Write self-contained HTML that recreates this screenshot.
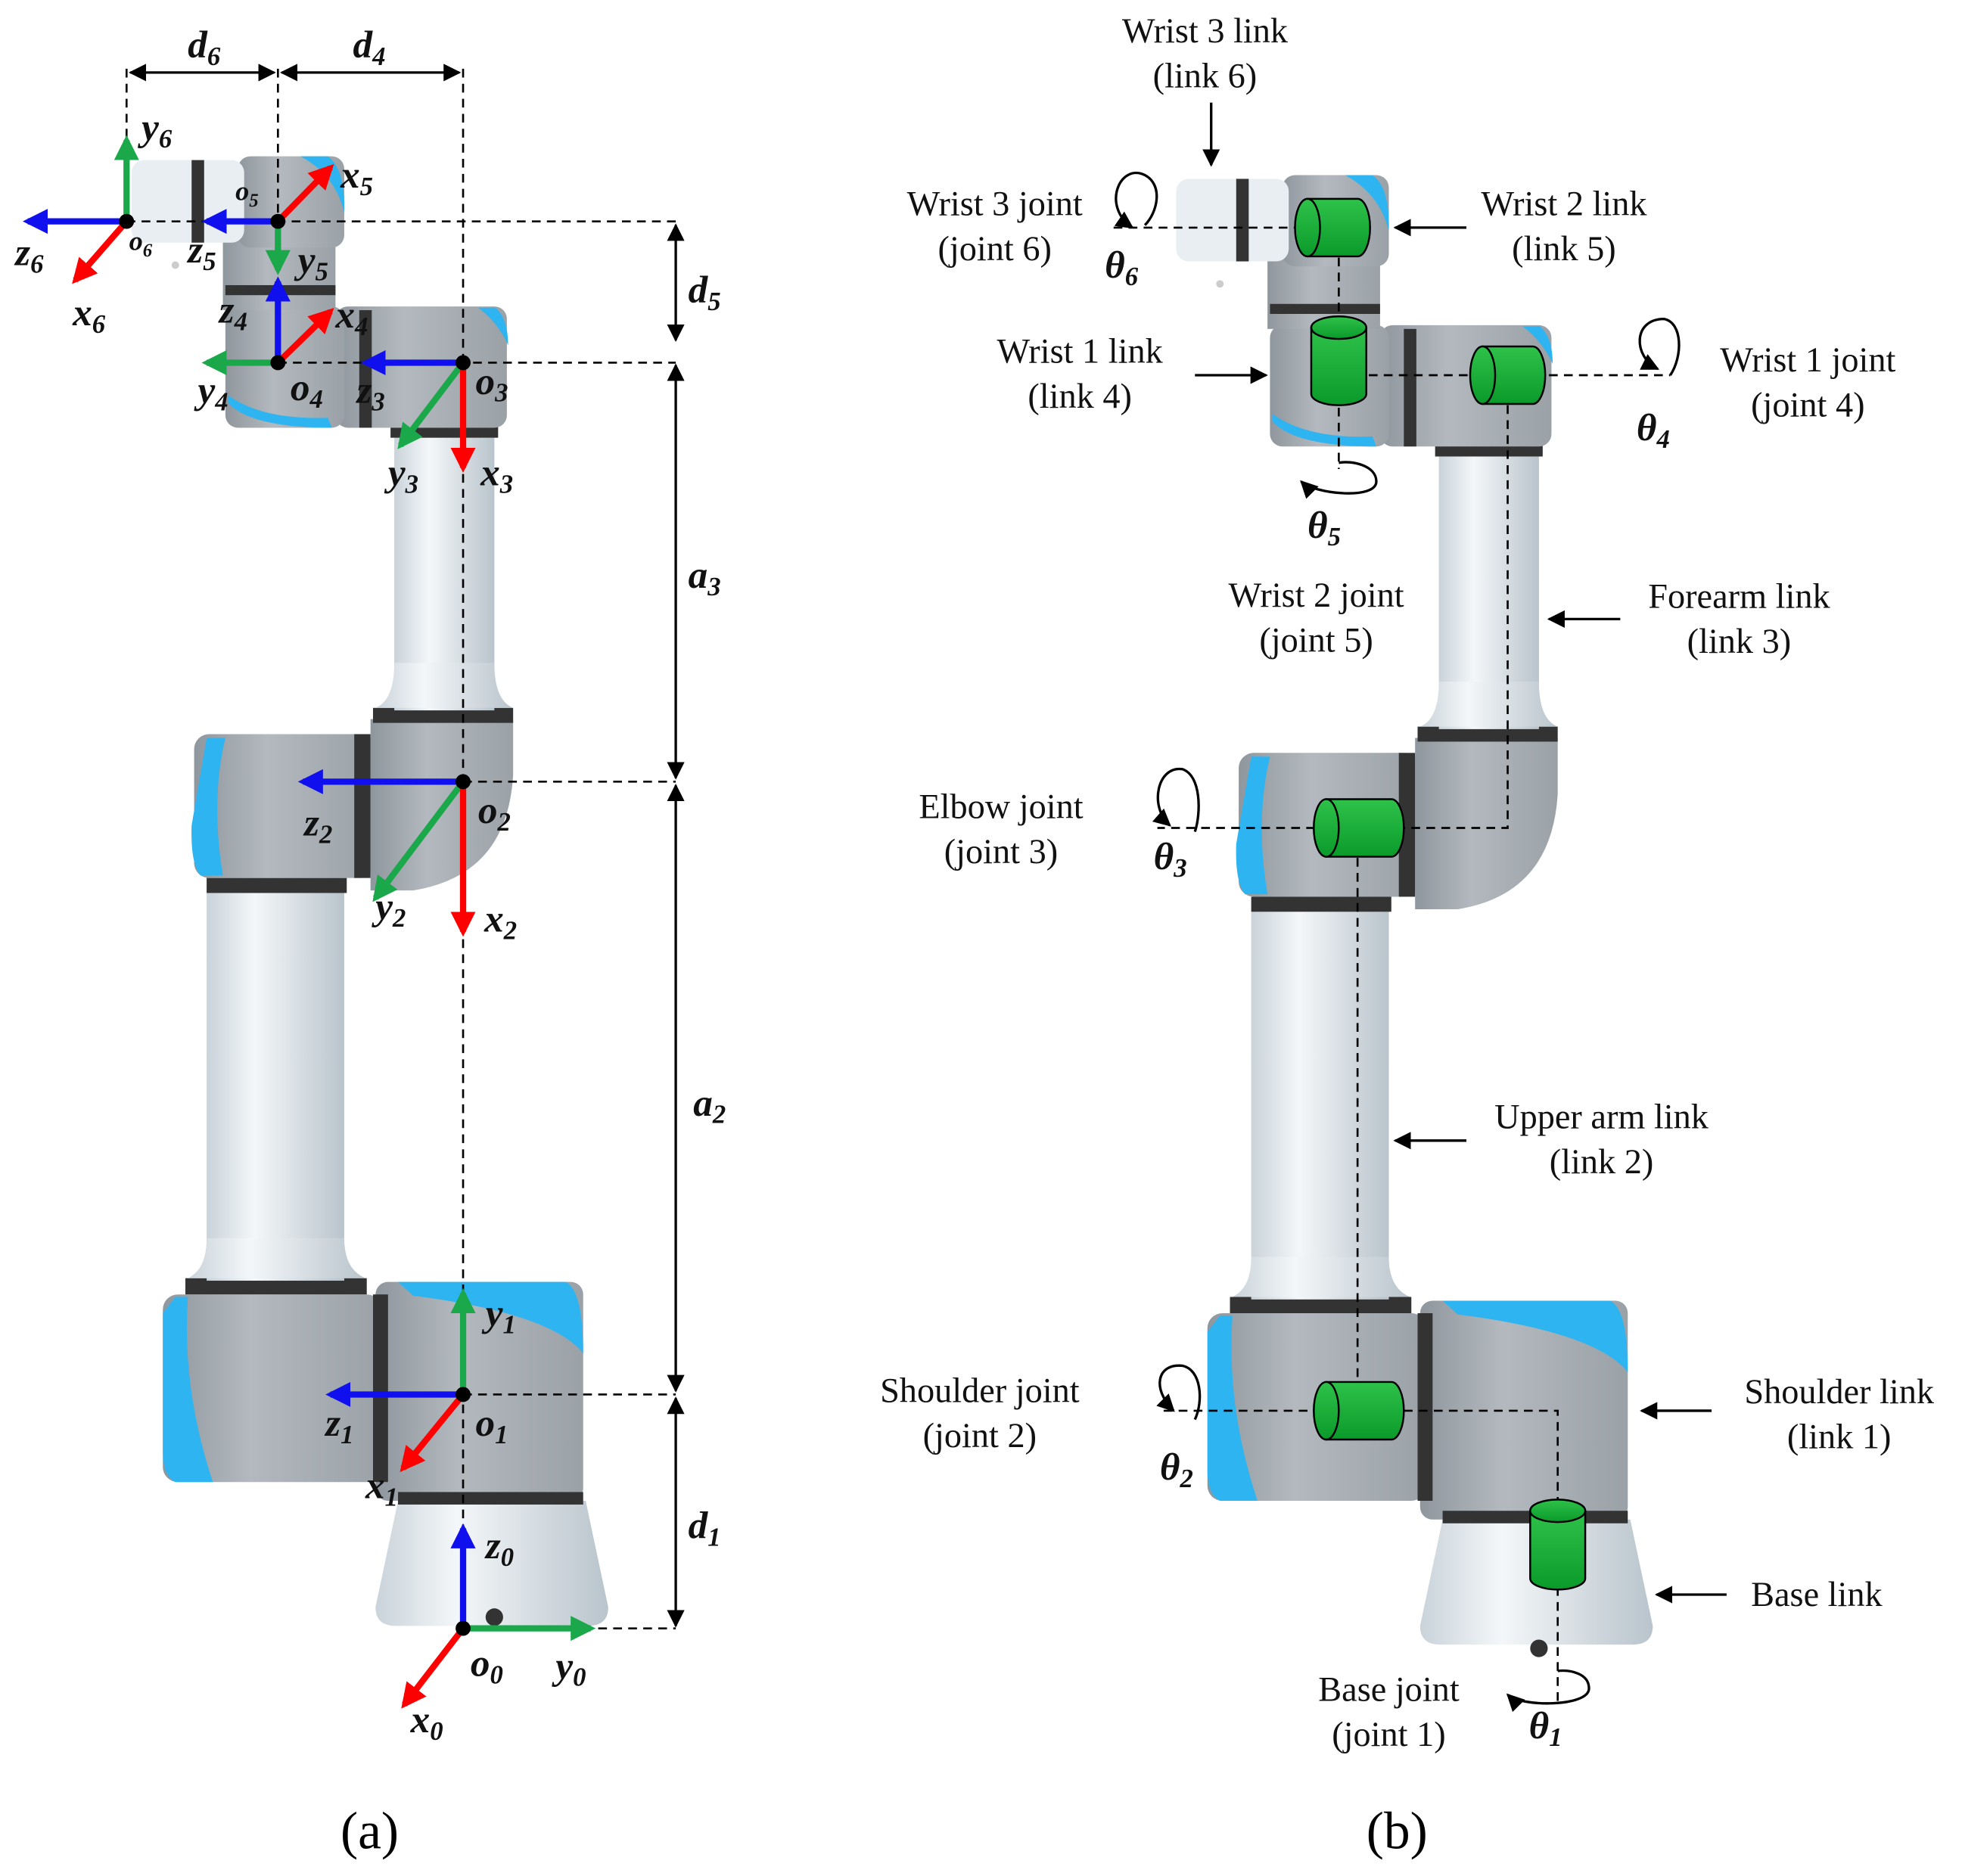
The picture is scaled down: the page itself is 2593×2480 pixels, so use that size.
<!DOCTYPE html>
<html><head><meta charset="utf-8"><style>
html,body{margin:0;padding:0;background:#fff}
svg{display:block}
text{font-family:"Liberation Serif",serif}
.lb{font-size:28px;fill:#111}
.m{font-size:31px;font-weight:bold;font-style:italic;fill:#111}
.s{font-size:21px}
</style></head><body>
<svg width="2593" height="2480" viewBox="0 0 1568 1500" xmlns="http://www.w3.org/2000/svg">
<defs>
<linearGradient id="tube" x1="0" x2="1"><stop offset="0" stop-color="#c9d3da"/><stop offset="0.35" stop-color="#f4f7f9"/><stop offset="1" stop-color="#b9c4cc"/></linearGradient>
<linearGradient id="gray" x1="0" x2="1"><stop offset="0" stop-color="#8f979e"/><stop offset="0.4" stop-color="#b3b9be"/><stop offset="1" stop-color="#9aa1a7"/></linearGradient>
<linearGradient id="gcyl" x1="0" x2="0" y1="0" y2="1"><stop offset="0" stop-color="#2fc24a"/><stop offset="1" stop-color="#0a9a2a"/></linearGradient>
<marker id="ah" viewBox="0 0 10 10" refX="9" refY="5" markerWidth="7" markerHeight="7" orient="auto-start-reverse"><path d="M0,0L10,5L0,10z" fill="#000"/></marker>
<marker id="ar" viewBox="0 0 10 10" refX="8" refY="5" markerWidth="4" markerHeight="4" orient="auto"><path d="M0,0L10,5L0,10z" fill="#f00"/></marker>
<marker id="ag" viewBox="0 0 10 10" refX="8" refY="5" markerWidth="4" markerHeight="4" orient="auto"><path d="M0,0L10,5L0,10z" fill="#1aa84a"/></marker>
<marker id="ab" viewBox="0 0 10 10" refX="8" refY="5" markerWidth="4" markerHeight="4" orient="auto"><path d="M0,0L10,5L0,10z" fill="#1010ee"/></marker>
<g id="robot">
 <path d="M318,1200 L468,1200 L486,1285 Q486,1300 470,1300 L316,1300 Q300,1300 300,1285 Z" fill="url(#tube)"/>
 <rect x="300" y="1025" width="166" height="175" rx="10" fill="url(#gray)"/>
 <path d="M318,1025 L452,1025 Q466,1032 466,1082 Q440,1050 330,1036 Z" fill="#2eb4f0"/>
 <rect x="318" y="1193" width="148" height="10" fill="#333"/>
 <rect x="130" y="1035" width="175" height="150" rx="12" fill="url(#gray)"/>
 <path d="M140,1037 L150,1037 Q145,1110 170,1185 L140,1185 Q130,1180 130,1160 L130,1050 Z" fill="#2eb4f0"/>
 <rect x="298" y="1035" width="12" height="150" fill="#333"/>
 <rect x="148" y="1022" width="145" height="13" fill="#333"/>
 <rect x="165" y="712" width="110" height="312" fill="url(#tube)"/>
 <path d="M165,990 Q165,1015 150,1022 L292,1022 Q275,1015 275,990Z" fill="url(#tube)"/>
 <rect x="165" y="702" width="112" height="12" fill="#333"/>
 <rect x="155" y="587" width="145" height="115" rx="12" fill="url(#gray)"/>
 <path d="M165,590 L180,590 Q168,640 178,700 L160,700 Q152,690 153,660 Z" fill="#2eb4f0"/>
 <rect x="283" y="587" width="13" height="115" fill="#333"/>
 <path d="M296,575 L410,575 L410,620 Q405,700 330,712 L296,712 Z" fill="url(#gray)"/>
 <rect x="298" y="566" width="112" height="12" fill="#333"/>
 <rect x="315" y="350" width="80" height="218" fill="url(#tube)"/>
 <path d="M315,530 Q315,560 300,566 L410,566 Q395,560 395,530Z" fill="url(#tube)"/>
 <rect x="312" y="340" width="86" height="10" fill="#333"/>
 <rect x="268" y="245" width="137" height="97" rx="10" fill="url(#gray)"/>
 <path d="M382,246 L396,246 Q406,255 406,276 Q398,258 382,246 Z" fill="#2eb4f0"/>
 <rect x="180" y="245" width="95" height="97" rx="10" fill="url(#gray)"/>
 <path d="M182,322 Q200,342 265,342 L262,334 Q210,336 182,316 Z" fill="#2eb4f0"/>
 <rect x="287" y="248" width="10" height="94" fill="#333"/>
 <rect x="178" y="190" width="90" height="58" fill="url(#gray)"/>
 <rect x="180" y="228" width="88" height="8" fill="#333"/>
 <rect x="190" y="125" width="85" height="73" rx="10" fill="url(#gray)"/>
 <path d="M240,125 L262,125 Q276,135 275,170 Q268,140 240,125 Z" fill="#2eb4f0"/>
 <rect x="105" y="128" width="90" height="66" rx="10" fill="#e9eef2"/>
 <rect x="153" y="128" width="10" height="66" fill="#333"/>
 <circle cx="140" cy="212" r="3" fill="#ccc"/>
</g>
</defs>

<use href="#robot"/>
<circle cx="395" cy="1293" r="7" fill="#333"/>
<g stroke="#000" stroke-width="1.6" stroke-dasharray="7,5" fill="none">
 <path d="M370,55V1302M222,55V290M101,55V177M101,177H540M222,290H540M370,625H540M370,1115H540M370,1302H540"/>
</g>
<g stroke="#000" stroke-width="2" fill="none">
 <path d="M540,180V272" marker-start="url(#ah)" marker-end="url(#ah)"/>
 <path d="M540,292V622" marker-start="url(#ah)" marker-end="url(#ah)"/>
 <path d="M540,628V1112" marker-start="url(#ah)" marker-end="url(#ah)"/>
 <path d="M540,1118V1300" marker-start="url(#ah)" marker-end="url(#ah)"/>
 <path d="M104,58H219" marker-start="url(#ah)" marker-end="url(#ah)"/>
 <path d="M225,58H367" marker-start="url(#ah)" marker-end="url(#ah)"/>
</g>
<g stroke-width="5" fill="none">
 <path d="M101,177V112" stroke="#1aa84a" marker-end="url(#ag)"/>
 <path d="M101,177H22" stroke="#1010ee" marker-end="url(#ab)"/>
 <path d="M101,177L60,224" stroke="#f00" marker-end="url(#ar)"/>
 <path d="M222,177L264,134" stroke="#f00" marker-end="url(#ar)"/>
 <path d="M222,177H165" stroke="#1010ee" marker-end="url(#ab)"/>
 <path d="M222,177V216" stroke="#1aa84a" marker-end="url(#ag)"/>
 <path d="M222,290V225" stroke="#1010ee" marker-end="url(#ab)"/>
 <path d="M222,290L264,249" stroke="#f00" marker-end="url(#ar)"/>
 <path d="M222,290H165" stroke="#1aa84a" marker-end="url(#ag)"/>
 <path d="M370,290H292" stroke="#1010ee" marker-end="url(#ab)"/>
 <path d="M370,290L320,356" stroke="#1aa84a" marker-end="url(#ag)"/>
 <path d="M370,290V374" stroke="#f00" marker-end="url(#ar)"/>
 <path d="M370,625H242" stroke="#1010ee" marker-end="url(#ab)"/>
 <path d="M370,625L300,718" stroke="#1aa84a" marker-end="url(#ag)"/>
 <path d="M370,625V745" stroke="#f00" marker-end="url(#ar)"/>
 <path d="M370,1115V1034" stroke="#1aa84a" marker-end="url(#ag)"/>
 <path d="M370,1115H264" stroke="#1010ee" marker-end="url(#ab)"/>
 <path d="M370,1115L322,1174" stroke="#f00" marker-end="url(#ar)"/>
 <path d="M370,1302V1222" stroke="#1010ee" marker-end="url(#ab)"/>
 <path d="M370,1302H472" stroke="#1aa84a" marker-end="url(#ag)"/>
 <path d="M370,1302L323,1363" stroke="#f00" marker-end="url(#ar)"/>
</g>
<g fill="#000"><circle cx="101" cy="177" r="6"/><circle cx="222" cy="177" r="6"/><circle cx="222" cy="290" r="6"/><circle cx="370" cy="290" r="6"/><circle cx="370" cy="625" r="6"/><circle cx="370" cy="1115" r="6"/><circle cx="370" cy="1302" r="6"/></g>
<g class="m">
 <text x="150" y="46">d<tspan class="s" dy="6">6</tspan></text>
 <text x="282" y="46">d<tspan class="s" dy="6">4</tspan></text>
 <text x="550" y="242">d<tspan class="s" dy="6">5</tspan></text>
 <text x="550" y="470">a<tspan class="s" dy="6">3</tspan></text>
 <text x="554" y="892">a<tspan class="s" dy="6">2</tspan></text>
 <text x="550" y="1230">d<tspan class="s" dy="6">1</tspan></text>
 <text x="113" y="112">y<tspan class="s" dy="6">6</tspan></text>
 <text x="12" y="212">z<tspan class="s" dy="6">6</tspan></text>
 <text x="58" y="260">x<tspan class="s" dy="6">6</tspan></text>
 <text x="103" y="200" style="font-size:22px">o<tspan class="s" dy="5" style="font-size:15px">6</tspan></text>
 <text x="188" y="160" style="font-size:22px">o<tspan class="s" dy="5" style="font-size:15px">5</tspan></text>
 <text x="272" y="150">x<tspan class="s" dy="6">5</tspan></text>
 <text x="150" y="210">z<tspan class="s" dy="6">5</tspan></text>
 <text x="238" y="218">y<tspan class="s" dy="6">5</tspan></text>
 <text x="175" y="258">z<tspan class="s" dy="6">4</tspan></text>
 <text x="268" y="262">x<tspan class="s" dy="6">4</tspan></text>
 <text x="158" y="322">y<tspan class="s" dy="6">4</tspan></text>
 <text x="232" y="320">o<tspan class="s" dy="6">4</tspan></text>
 <text x="285" y="322">z<tspan class="s" dy="6">3</tspan></text>
 <text x="380" y="315">o<tspan class="s" dy="6">3</tspan></text>
 <text x="310" y="388">y<tspan class="s" dy="6">3</tspan></text>
 <text x="384" y="388">x<tspan class="s" dy="6">3</tspan></text>
 <text x="243" y="668">z<tspan class="s" dy="6">2</tspan></text>
 <text x="382" y="658">o<tspan class="s" dy="6">2</tspan></text>
 <text x="300" y="735">y<tspan class="s" dy="6">2</tspan></text>
 <text x="387" y="745">x<tspan class="s" dy="6">2</tspan></text>
 <text x="388" y="1060">y<tspan class="s" dy="6">1</tspan></text>
 <text x="260" y="1148">z<tspan class="s" dy="6">1</tspan></text>
 <text x="380" y="1148">o<tspan class="s" dy="6">1</tspan></text>
 <text x="292" y="1198">x<tspan class="s" dy="6">1</tspan></text>
 <text x="388" y="1246">z<tspan class="s" dy="6">0</tspan></text>
 <text x="376" y="1340">o<tspan class="s" dy="6">0</tspan></text>
 <text x="444" y="1342">y<tspan class="s" dy="6">0</tspan></text>
 <text x="328" y="1385">x<tspan class="s" dy="6">0</tspan></text>
</g>
<text x="272" y="1478" style="font-size:42px">(a)</text>

<use href="#robot" transform="translate(835,15)"/>
<circle cx="1230" cy="1318" r="7" fill="#333"/>
<g stroke="#000" stroke-width="1.6" stroke-dasharray="7,5" fill="none">
 <path d="M890,182H1095M1070,182V375M1070,300H1335M1205,300V662H925M1085,662V1128M930,1128H1245V1365"/>
</g>
<g stroke="#000" stroke-width="1.5" fill="url(#gcyl)">
 <path d="M1045,159H1085A10,23 0 0 1 1085,205H1045Z"/><ellipse cx="1045" cy="182" rx="10" ry="23"/>
 <path d="M1185,277H1225A10,23 0 0 1 1225,323H1185Z"/><ellipse cx="1185" cy="300" rx="10" ry="23"/>
 <path d="M1060,639H1112A10,23 0 0 1 1112,685H1060Z"/><ellipse cx="1060" cy="662" rx="10" ry="23"/>
 <path d="M1060,1105H1112A10,23 0 0 1 1112,1151H1060Z"/><ellipse cx="1060" cy="1128" rx="10" ry="23"/>
 <path d="M1048,262V315A22,9 0 0 0 1092,315V262Z"/><ellipse cx="1070" cy="262" rx="22" ry="9"/>
 <path d="M1223,1208V1262A22,9 0 0 0 1267,1262V1208Z"/><ellipse cx="1245" cy="1208" rx="22" ry="9"/>
</g>
<g stroke="#000" stroke-width="2" fill="none">
 <path d="M968,82V132" marker-end="url(#ah)"/>
 <path d="M1172,182H1115" marker-end="url(#ah)"/>
 <path d="M955,300H1012" marker-end="url(#ah)"/>
 <path d="M1295,495H1238" marker-end="url(#ah)"/>
 <path d="M1172,912H1115" marker-end="url(#ah)"/>
 <path d="M1368,1128H1312" marker-end="url(#ah)"/>
 <path d="M1380,1275H1324" marker-end="url(#ah)"/>
 <path d="M905,182C880,165 895,130 915,140C930,148 925,170 915,180" marker-start="url(#ah)"/>
 <path d="M1325,295C1305,285 1305,255 1330,255C1345,258 1345,285 1335,300" marker-start="url(#ah)"/>
 <path d="M1040,385C1050,395 1100,400 1100,385C1100,372 1080,368 1070,370" marker-start="url(#ah)"/>
 <path d="M935,660C918,645 925,612 945,615C960,620 960,650 955,665" marker-start="url(#ah)"/>
 <path d="M938,1128C920,1110 925,1090 945,1092C960,1095 962,1120 955,1135" marker-start="url(#ah)"/>
 <path d="M1205,1355C1215,1365 1270,1365 1270,1350C1270,1338 1255,1335 1245,1336" marker-start="url(#ah)"/>
</g>
<g class="lb" text-anchor="middle">
 <text x="963" y="34">Wrist 3 link</text><text x="963" y="70">(link 6)</text>
 <text x="795" y="172">Wrist 3 joint</text><text x="795" y="208">(joint 6)</text>
 <text x="1250" y="172">Wrist 2 link</text><text x="1250" y="208">(link 5)</text>
 <text x="863" y="290">Wrist 1 link</text><text x="863" y="326">(link 4)</text>
 <text x="1445" y="297">Wrist 1 joint</text><text x="1445" y="333">(joint 4)</text>
 <text x="1052" y="485">Wrist 2 joint</text><text x="1052" y="521">(joint 5)</text>
 <text x="1390" y="486">Forearm link</text><text x="1390" y="522">(link 3)</text>
 <text x="800" y="654">Elbow joint</text><text x="800" y="690">(joint 3)</text>
 <text x="1280" y="902">Upper arm link</text><text x="1280" y="938">(link 2)</text>
 <text x="783" y="1121">Shoulder joint</text><text x="783" y="1157">(joint 2)</text>
 <text x="1470" y="1122">Shoulder link</text><text x="1470" y="1158">(link 1)</text>
 <text x="1452" y="1284">Base link</text>
 <text x="1110" y="1360">Base joint</text><text x="1110" y="1396">(joint 1)</text>
</g>
<g class="m">
 <text x="883" y="222">θ<tspan class="s" dy="6">6</tspan></text>
 <text x="1308" y="352">θ<tspan class="s" dy="6">4</tspan></text>
 <text x="1045" y="430">θ<tspan class="s" dy="6">5</tspan></text>
 <text x="922" y="695">θ<tspan class="s" dy="6">3</tspan></text>
 <text x="927" y="1183">θ<tspan class="s" dy="6">2</tspan></text>
 <text x="1222" y="1390">θ<tspan class="s" dy="6">1</tspan></text>
</g>
<text x="1092" y="1478" style="font-size:42px">(b)</text>
</svg>
</body></html>
